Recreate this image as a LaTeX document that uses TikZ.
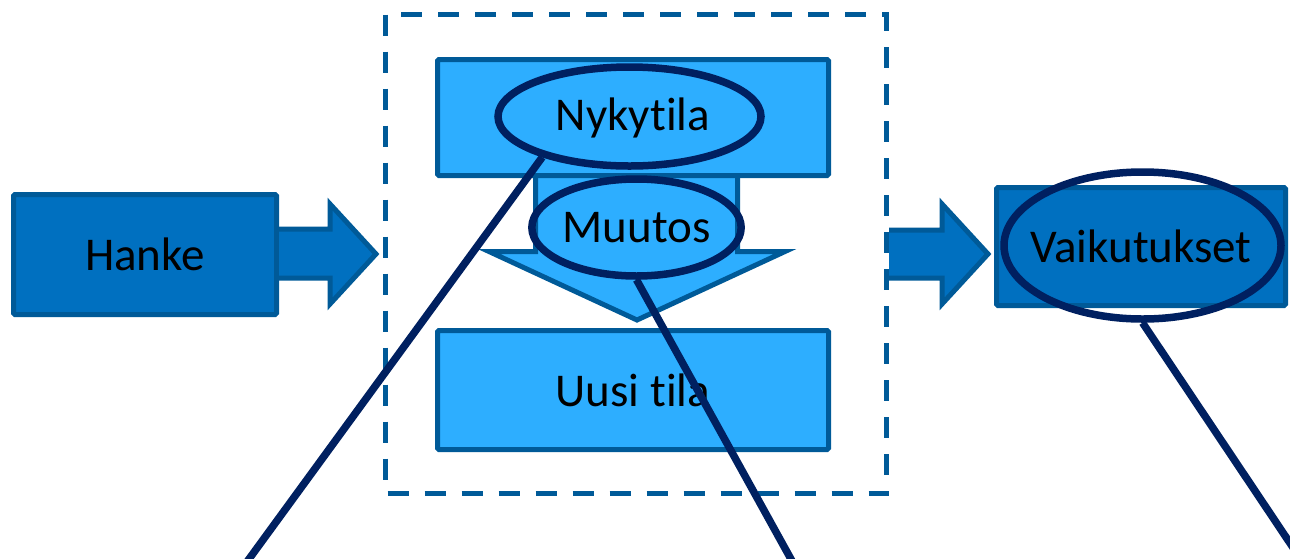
\documentclass[tikz,border=0pt]{standalone}
\usepackage{fontspec}
\setmainfont[Ligatures={NoCommon}]{Carlito}
\usetikzlibrary{shapes.geometric}
\definecolor{dkfill}{HTML}{0070C0}
\definecolor{dkline}{HTML}{005A98}
\definecolor{ltfill}{HTML}{2DAEFF}
\definecolor{navy}{HTML}{002060}
\begin{document}
\begin{tikzpicture}[x=1pt,y=-1pt,
  box/.style={draw=dkline, line width=5pt, rounded corners=1.5pt, inner sep=0pt,
    font=\fontsize{47}{50}\selectfont, text=black},
  darkbox/.style={box, fill=dkfill},
  lightbox/.style={box, fill=ltfill},
  blockarrow/.style={draw=dkline, line width=5pt, line join=miter},
  oval/.style={ellipse, draw=navy, line width=7.5pt, inner sep=0pt,
    font=\fontsize{47}{50}\selectfont, text=black},
  conn/.style={draw=navy, line width=7.5pt},
  frame/.style={draw=dkline, line width=4.5pt, dash pattern=on 21pt off 16pt}
]
\useasboundingbox (0,0) rectangle (1290,558);
\clip (0,0) rectangle (1290,558);

% dashed frame
\draw[frame] (385.5,14.5) rectangle (886.5,493.5);

% Hanke and arrow
\node[darkbox, minimum width=263pt, minimum height=120pt] (hanke) at (145,254.5) {Hanke};
\draw[blockarrow, fill=dkfill] (279,229) -- (330,229) -- (330,204) -- (376,254)
  -- (330,304) -- (330,278) -- (279,278);

% down arrow
\draw[blockarrow, fill=ltfill] (535.5,176) -- (535.5,251.5) -- (489,251.5) -- (637,320)
  -- (785,251.5) -- (737.5,251.5) -- (737.5,176);

% state boxes
\node[lightbox, minimum width=391pt, minimum height=116pt] (nyky) at (633,117.5) {Nykytila};
\node[lightbox, minimum width=391pt, minimum height=119pt] (uusi) at (633,390) {Uusi tila};

% right arrow and Vaikutukset
\draw[blockarrow, fill=dkfill] (889,230) -- (942,230) -- (942,204) -- (988,254)
  -- (942,304) -- (942,278) -- (889,278);
\node[darkbox, minimum width=289pt, minimum height=118pt] (vaik) at (1141,246.5) {Vaikutukset};

% ovals
\node[oval, minimum width=263pt, minimum height=99pt] (nykyE) at (629.5,116.5) {};
\node[oval, minimum width=187pt, minimum height=97pt] (muutos) at (636.5,227.5) {Muutos};
\node[oval, minimum width=277pt, minimum height=147pt] (vaikE) at (1142.5,245.5) {};

% free ends
\coordinate (e1) at (241,570);
\coordinate (e2) at (797,570);
\coordinate (e3) at (1310,573);

% connectors
\draw[conn] (nykyE.205) -- (e1);
\draw[conn] (muutos.south) -- (e2);
\draw[conn] (vaikE.south) -- (e3);
\end{tikzpicture}
\end{document}
